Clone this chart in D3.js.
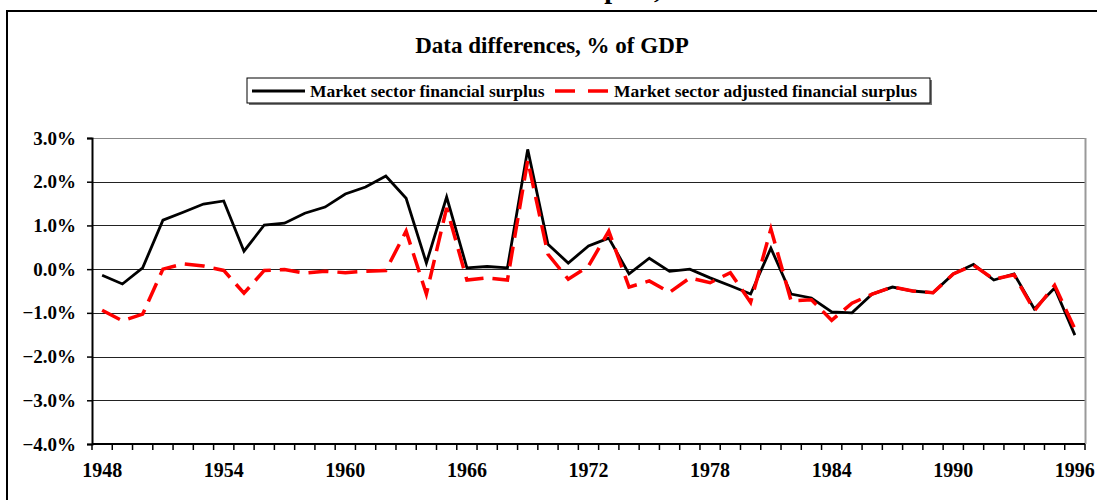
<!DOCTYPE html>
<html>
<head>
<meta charset="utf-8">
<script src="https://cdn.jsdelivr.net/npm/d3@7"></script>
<style>
  body { margin: 0; background: #fff; }
  svg { display: block; }
  text { font-family: "Liberation Serif", "Times New Roman", serif; font-weight: bold; }
</style>
</head>
<body>
<script>
var w = 1097;
var h = 500;

var years = d3.range(1948, 1997);
var yearLabels = ["1948", "1954", "1960", "1966", "1972", "1978", "1984", "1990", "1996"];
var yTicks = [-0.04, -0.03, -0.02, -0.01, 0, 0.01, 0.02, 0.03];

// % of GDP
var surplus = [-0.14, -0.34, 0.03, 1.12, 1.30, 1.49, 1.56, 0.41, 1.01, 1.05,
               1.28, 1.42, 1.72, 1.88, 2.13, 1.62, 0.14, 1.65, 0.03, 0.06,
               0.03, 2.74, 0.57, 0.14, 0.53, 0.71, -0.11, 0.25, -0.05, 0.00,
               -0.20, -0.38, -0.57, 0.48, -0.57, -0.66, -0.98, -1.00, -0.57, -0.41,
               -0.50, -0.54, -0.11, 0.11, -0.25, -0.11, -0.91, -0.43, -1.51];
var adjusted = [-0.94, -1.18, -1.03, 0.00, 0.12, 0.07, -0.03, -0.55, -0.03, -0.01,
                -0.09, -0.05, -0.08, -0.05, -0.03, 0.87, -0.57, 1.40, -0.25, -0.20,
                -0.25, 2.49, 0.34, -0.23, 0.07, 0.87, -0.41, -0.27, -0.53, -0.20,
                -0.31, -0.08, -0.76, 0.92, -0.73, -0.70, -1.17, -0.78, -0.57, -0.41,
                -0.50, -0.54, -0.11, 0.09, -0.23, -0.13, -0.95, -0.37, -1.37];

// plot area edges (note: "top" is taken by window.top)
var pLeft = 92, pRight = 1085, pTop = 138, pBottom = 444;

var svg = d3.select("body")
            .append("svg")
            .attr("width", w)
            .attr("height", h);

// outer chart border (runs off the page on the right and bottom)
svg.append("rect")
   .attr("x", 7).attr("y", 11)
   .attr("width", 1100).attr("height", 500)
   .attr("fill", "none")
   .attr("stroke", "#000")
   .attr("stroke-width", 2);

// main title, cut off above the page: only descenders show
svg.append("text")
   .attr("x", 640)
   .attr("y", -2)
   .attr("text-anchor", "middle")
   .attr("font-size", "28px")
   .text("Financial surplus, market sector");

svg.append("text")
   .attr("x", 552)
   .attr("y", 53)
   .attr("text-anchor", "middle")
   .attr("font-size", "23px")
   .text("Data differences, % of GDP");

var x = d3.scaleBand()
          .domain(years)
          .range([pLeft, pRight]);

var y = d3.scaleLinear()
          .domain([-0.04, 0.03])
          .range([pBottom, pTop]);

// gridlines
svg.selectAll("line.grid")
   .data(yTicks)
   .enter()
   .append("line")
   .attr("class", "grid")
   .attr("x1", pLeft)
   .attr("x2", pRight)
   .attr("y1", function(d){ return Math.round(y(d)) + 0.5; })
   .attr("y2", function(d){ return Math.round(y(d)) + 0.5; })
   .attr("stroke", function(d){ return d == 0.03 ? "#888" : "#222"; })
   .attr("stroke-width", 1);

// right edge of plot area
svg.append("line")
   .attr("x1", pRight + 0.5).attr("x2", pRight + 0.5)
   .attr("y1", pTop).attr("y2", pBottom)
   .attr("stroke", "#999")
   .attr("stroke-width", 2);

var yAxis = d3.axisLeft(y)
              .tickValues(yTicks)
              .tickSize(5)
              .tickFormat(d3.format(".1%"));

svg.append("g")
   .attr("transform", "translate(" + pLeft + ",0)")
   .call(yAxis)
   .call(function(g){
       g.select(".domain").attr("stroke-width", 2);
       g.selectAll(".tick line").attr("stroke-width", 1.5);
       g.selectAll("text")
        .attr("x", -16)
        .attr("font-size", "19px")
        .attr("font-family", null)
        .attr("fill", "#000");
   });

// x axis: ticks between categories, labels every 6 years
var xAxis = svg.append("g")
               .attr("transform", "translate(0," + pBottom + ")");

xAxis.append("line")
     .attr("x1", pLeft).attr("x2", pRight)
     .attr("stroke", "#000")
     .attr("stroke-width", 2);

xAxis.selectAll("line.tick")
     .data(years.concat([1997]))
     .enter()
     .append("line")
     .attr("class", "tick")
     .attr("x1", function(d, i){ return pLeft + i * x.step(); })
     .attr("x2", function(d, i){ return pLeft + i * x.step(); })
     .attr("y1", 0)
     .attr("y2", 6)
     .attr("stroke", "#000")
     .attr("stroke-width", 1.5);

xAxis.selectAll("text")
     .data(yearLabels)
     .enter()
     .append("text")
     .attr("x", function(d){ return x(+d) + x.bandwidth() / 2; })
     .attr("y", 33)
     .attr("text-anchor", "middle")
     .attr("font-size", "20px")
     .text(function(d){ return d; });

var line = d3.line()
             .x(function(d, i){ return x(years[i]) + x.bandwidth() / 2; })
             .y(function(d){ return y(d / 100); });

svg.append("path")
   .datum(surplus)
   .attr("d", line)
   .attr("fill", "none")
   .attr("stroke", "#000")
   .attr("stroke-width", 2.8);

svg.append("path")
   .datum(adjusted)
   .attr("d", line)
   .attr("fill", "none")
   .attr("stroke", "#ff0000")
   .attr("stroke-width", 3.5)
   .attr("stroke-dasharray", "20,9");

// legend
var legend = svg.append("g");

legend.append("rect")
      .attr("x", 249).attr("y", 80)
      .attr("width", 683).attr("height", 25)
      .attr("fill", "#777");

legend.append("rect")
      .attr("x", 247).attr("y", 78)
      .attr("width", 683).attr("height", 25)
      .attr("fill", "#fff")
      .attr("stroke", "#000")
      .attr("stroke-width", 1);

legend.append("line")
      .attr("x1", 252).attr("x2", 305)
      .attr("y1", 91).attr("y2", 91)
      .attr("stroke", "#000")
      .attr("stroke-width", 2.8);

legend.append("text")
      .attr("x", 310).attr("y", 97)
      .attr("font-size", "17.5px")
      .text("Market sector financial surplus");

legend.append("line")
      .attr("x1", 555).attr("x2", 608)
      .attr("y1", 91).attr("y2", 91)
      .attr("stroke", "#ff0000")
      .attr("stroke-width", 3.5)
      .attr("stroke-dasharray", "20,13");

legend.append("text")
      .attr("x", 614).attr("y", 97)
      .attr("font-size", "17.5px")
      .text("Market sector adjusted financial surplus");
</script>
</body>
</html>
